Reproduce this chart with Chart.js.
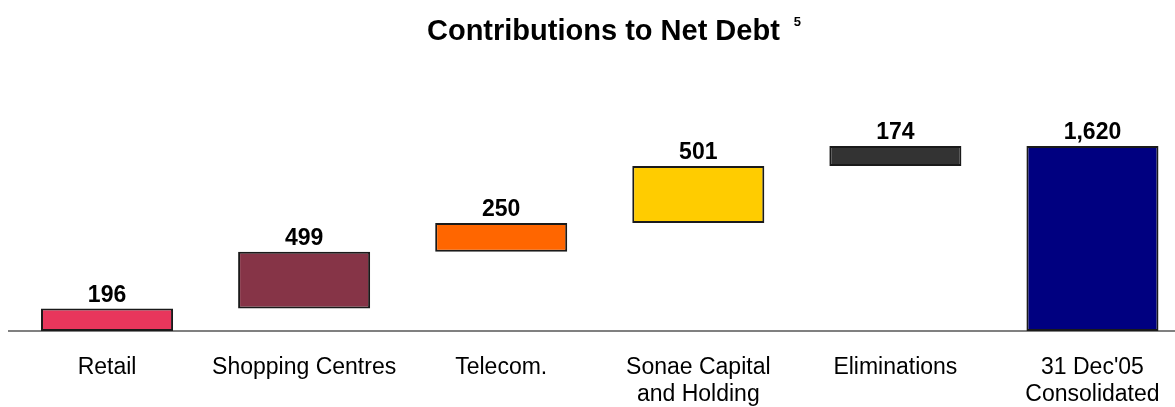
<!DOCTYPE html>
<html>
<head>
<meta charset="utf-8">
<script src="https://cdn.jsdelivr.net/npm/chart.js@4/dist/chart.umd.min.js"></script>
<style>
  body { margin: 0; background: #fff; overflow: hidden; }
  #wrap { position: relative; width: 1191px; height: 407px; }
  #title {
    position: absolute; top: 8px; left: 427px;
    font: bold 29px "Liberation Sans", Arial, sans-serif; color: #000;
    white-space: nowrap; line-height: 34px;
  }
  #title sup { font-size: 13px; margin-left: 14px; position: relative; top: -3px; }
</style>
</head>
<body>
<div id="wrap">
  <div id="title">Contributions to Net Debt<sup>5</sup></div>
  <canvas id="chart" width="1191" height="407"></canvas>
</div>
<script>
// Data
const categories = [["Retail"], ["Shopping Centres"], ["Telecom."], ["Sonae Capital", "and Holding"], ["Eliminations"], ["31 Dec'05", "Consolidated"]];
const values = [196, 499, 250, 501, 174, 1620];
const isTotal = [false, false, false, false, false, true];
const colors = ["#E8365C", "#863447", "#FF6600", "#FFCC00", "#333333", "#000080"];

// Build floating bars for the waterfall
let running = 0;
const floating = values.map((v, i) => {
    if (isTotal[i]) return [0, v];
    const seg = [running, running + v];
    running += v;
    return seg;
});

const valueLabels = {
    id: "valueLabels",
    afterDatasetsDraw(chart) {
        const ctx = chart.ctx;
        const meta = chart.getDatasetMeta(0);
        ctx.save();
        ctx.font = "bold 23px 'Liberation Sans', Arial, sans-serif";
        ctx.fillStyle = "#000";
        ctx.textAlign = "center";
        ctx.textBaseline = "alphabetic";
        meta.data.forEach((bar, i) => {
            const top = Math.min(bar.y, bar.base);
            ctx.fillText(values[i].toLocaleString("en-US"), bar.x, top - 7);
        });
        ctx.restore();
    }
};

new Chart(document.getElementById("chart").getContext("2d"), {
    type: "bar",
    data: {
        labels: categories,
        datasets: [{
            data: floating,
            backgroundColor: colors,
            borderColor: "#1a1a1a",
            borderWidth: 2,
            borderSkipped: false,
            barPercentage: 0.67,
            categoryPercentage: 1
        }]
    },
    options: {
        responsive: false,
        animation: false,
        layout: { padding: { left: 8.5, right: 0, top: 57, bottom: 0 } },
        plugins: {
            legend: { display: false },
            title: { display: false },
            tooltip: { enabled: false }
        },
        scales: {
            x: {
                grid: { display: false, drawOnChartArea: false },
                border: { display: true, color: "#808080", width: 2 },
                ticks: {
                    color: "#000",
                    padding: 15,
                    maxRotation: 0,
                    autoSkip: false,
                    font: { family: "'Liberation Sans', Arial, sans-serif", size: 23, lineHeight: 1.18 }
                },
                afterFit(scale) { scale.height = 76; }
            },
            y: {
                display: false,
                min: 0,
                max: 2400
            }
        }
    },
    plugins: [valueLabels]
});
</script>
</body>
</html>
